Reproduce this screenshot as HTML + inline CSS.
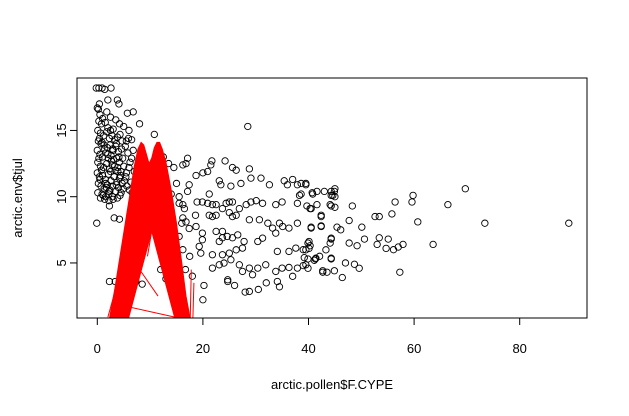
<!DOCTYPE html>
<html><head><meta charset="utf-8"><style>
html,body{margin:0;padding:0;background:#fff;}
svg{display:block;font-family:"Liberation Sans",Arial,sans-serif;}
</style></head><body>
<svg id="chart" width="629" height="416" viewBox="0 0 629 416" xmlns="http://www.w3.org/2000/svg">
<defs><clipPath id="pc"><rect x="77" y="78" width="510" height="240"/></clipPath></defs>
<g id="pts"></g>
<g id="redg" clip-path="url(#pc)"></g>
<rect x="77" y="78" width="510" height="240" fill="none" stroke="#000" stroke-width="1"/>
<g id="axes"></g>
<text x="332" y="389" text-anchor="middle" font-size="13">arctic.pollen$F.CYPE</text>
<text x="0" y="0" transform="translate(22,198) rotate(-90)" text-anchor="middle" font-size="13">arctic.env$tjul</text>
</svg>
<script>
const xTicks=[0,20,40,60,80];
const yTicks=[5,10,15];
const ptX=[-0.2,0.3,0.9,1.4,2.6,2.0,3.8,4.1,0.0,5.7,6.8,
0.2,0.5,1.0,0.3,0.8,1.5,2.0,2.5,3.0,0.1,0.6,1.2,1.8,2.3,2.8,3.3,3.8,4.3,0.2,0.7,1.3,1.9,2.4,2.9,3.5,4.0,4.6,0.0,0.5,1.0,1.6,2.1,2.6,3.1,3.7,4.2,4.8,0.1,0.6,1.2,1.8,2.3,2.8,3.4,3.9,4.5,5.0,0.0,0.4,1.0,1.5,2.1,2.6,3.2,3.7,4.2,4.7,0.2,0.7,1.3,1.9,2.4,2.9,3.5,4.0,4.5,0.1,0.9,1.6,2.2,5.5,5.8,6.2,5.5,6.8,6.0,5.0,4.2,3.5,2.5,1.8,0.4,
0.4,0.9,1.4,2.0,2.7,3.3,3.9,4.4,5.1,5.6,6.1,6.6,0.3,0.8,1.6,2.2,2.9,3.6,4.3,4.9,5.4,6.0,6.5,7.0,0.5,1.1,1.7,2.5,3.0,3.6,4.1,4.7,5.3,5.9,6.4,0.6,1.4,2.2,3.0,3.8,
-0.1,2.3,3.2,4.2,2.3,3.4,7.3,8.5,10.8,8.0,6.5,
12.5,13.5,14.5,15.0,14.0,15.5,16.0,15.5,16.2,17.5,12.0,13.0,13.8,16.7,18.0,20.2,14.8,
28.5,17.1,16.8,16.2,21.7,21.5,24.2,25.6,26.3,28.8,31.0,29.1,20.9,20.0,23.1,23.4,25.3,27.2,32.6,35.4,37.0,36.0,37.9,39.5,18.7,17.4,17.1,21.2,
15.5,16.2,16.5,18.9,19.9,20.9,21.8,22.5,23.7,24.4,25.0,25.6,21.2,21.8,22.5,18.6,25.0,25.6,26.3,26.9,28.2,29.1,30.1,31.3,33.8,35.0,38.3,40.8,43.0,44.3,44.9,37.9,40.5,42.4,44.3,
18.7,19.9,19.9,22.5,23.7,23.1,26.6,27.8,28.8,30.7,32.3,33.2,34.5,35.1,37.9,40.5,42.4,44.3,16.8,16.2,17.4,23.7,24.6,25.6,
19.3,19.6,21.8,23.7,25.0,26.3,27.5,30.4,31.3,33.8,36.3,34.1,36.3,37.6,40.1,39.5,41.4,43.3,44.3,
21.8,23.1,24.0,25.3,26.9,27.5,28.8,29.4,30.4,31.9,33.8,35.0,36.3,37.9,39.5,42.7,44.9,34.1,37.0,24.7,24.7,28.8,20.0,
69.7,89.3,73.4,66.4,63.6,59.8,59.6,60.7,56.4,55.8,57.3,57.9,57.0,56.1,54.7,55.1,53.4,53.0,53.4,52.6,50.6,50.1,49.2,47.7,47.7,48.3,49.6,48.7,47.0,46.4,46.1,45.4,44.3,44.1,44.3,42.7,43.5,45.0,44.3,44.6,45.0,44.1,45.0,42.4,42.4,40.5,40.7,41.6,41.6,39.7,40.3,39.5,38.6,38.6,39.9,40.3,40.1,39.0,42.1,41.3,41.1,39.9,39.2,39.0,39.9,
28.0,26.0,30.5,32.0,34.5];
const ptY=[18.2,18.2,18.2,18.1,18.2,17.3,17.3,17.0,16.7,16.3,16.4,
16.6,16.2,15.9,15.7,15.5,15.6,15.2,15.0,15.1,15.0,14.8,14.6,14.9,14.4,14.6,14.3,14.5,14.7,14.2,14.0,13.9,13.7,13.9,13.6,13.8,13.4,13.6,13.5,13.2,13.0,13.3,12.9,13.1,12.8,12.9,12.6,12.9,12.6,12.3,12.2,12.5,12.1,12.4,12.0,12.2,11.9,12.3,11.8,11.5,11.6,11.3,11.7,11.2,11.5,11.1,11.4,11.0,11.0,10.8,10.6,10.9,10.5,10.8,10.4,10.7,10.3,10.3,10.2,10.0,10.2,11.8,13.3,12.6,14.2,13.5,15.0,15.3,15.5,15.8,16.0,16.4,17.0,
14.4,14.1,13.6,13.2,12.7,12.3,11.9,11.6,11.2,10.8,10.5,10.3,12.9,12.0,11.0,10.4,10.0,10.9,10.1,10.6,11.5,12.2,12.9,11.9,11.3,10.1,10.7,11.9,13.5,14.0,13.0,14.2,13.8,14.4,11.1,9.9,9.8,9.7,9.8,9.9,
8.0,9.3,8.4,8.3,3.6,3.6,3.6,3.4,14.7,15.5,14.3,
13.0,12.5,12.2,11.0,10.2,10.0,8.0,7.0,6.0,5.5,4.5,3.8,3.2,4.5,4.0,3.3,4.5,
15.3,12.9,12.5,12.4,12.7,12.4,12.7,12.2,12.0,12.1,11.4,11.4,11.9,11.8,11.2,10.9,10.8,11.0,10.9,11.2,11.3,10.9,10.9,10.9,11.6,10.9,10.4,10.2,
9.5,9.4,9.1,9.6,9.6,9.5,9.4,9.4,9.1,9.5,9.6,9.6,8.6,8.5,8.6,8.6,8.8,8.5,8.6,9.1,9.4,9.6,9.7,9.5,9.4,9.6,10.1,10.2,10.4,10.1,10.4,9.5,9.1,8.5,9.3,
7.75,7.25,6.75,7.38,7.38,6.62,7.12,6.62,8.26,8.26,8.0,7.63,8.0,7.75,8.0,7.63,7.75,6.87,8.1,8.4,7.6,6.9,7.0,6.9,
6.25,5.74,5.62,5.62,5.74,5.99,6.12,6.62,6.87,7.25,7.63,5.87,5.87,6.12,6.62,5.99,5.36,5.99,5.36,
4.61,4.86,4.99,5.24,4.86,4.36,4.61,4.11,4.61,4.86,4.36,4.61,4.66,4.61,4.86,4.41,4.41,3.60,3.99,3.73,3.60,2.85,2.22,
10.6,8.0,8.0,9.4,6.4,10.1,9.6,8.1,9.6,8.7,4.3,6.4,6.2,6.0,6.1,6.8,6.9,6.4,8.5,8.5,6.8,7.7,6.3,6.5,8.2,9.3,4.6,4.9,5.0,3.9,7.5,7.7,6.8,6.5,5.3,4.3,4.3,10.6,10.4,10.1,10.0,9.4,9.2,8.6,7.8,7.7,10.3,10.4,9.4,9.3,9.1,11.0,11.0,10.2,6.5,6.3,6.1,6.0,5.5,5.3,5.2,5.3,5.4,4.8,4.6,
2.8,3.3,3.0,3.5,3.2];
const fitX=[2.3,3.3,4.3,5.3,6.3,7.0,7.7,8.3,8.8,9.3,9.8,10.3,10.8,11.3,11.8,12.3,13,14,15,16,16.8,17.6];
const fitY=[0.8,3,5.5,8,10.5,12.3,13.6,14.1,13.9,13.2,12.5,12.9,13.7,14.1,14.1,13.6,12.6,10.5,8,5,2.5,0.8];
const holeX=[5.9,10.3,14.7];
const holeY=[0.8,7.4,0.8];
const strayX1=[2.0,4.6,7.5,10.3,17.6,18.1];
const strayY1=[0.9,1.8,4.8,7.4,0.8,0.8];
const strayX2=[3.8,14.8,11.5,9.5,17.8,18.3];
const strayY2=[3.5,0.9,2.5,5.5,4.5,3.5];

const NS='http://www.w3.org/2000/svg';
const sx=x=>97.3+x*5.28;
const sy=y=>196.7-(y-10)*13.25;
function mk(t,a,p){const e=document.createElementNS(NS,t);for(const k in a)e.setAttribute(k,a[k]);p.appendChild(e);return e;}

const redg=document.getElementById('redg');
let d='M'+sx(fitX[0])+' '+sy(-1);
for(let i=0;i<fitX.length;i++)d+=' L'+sx(fitX[i])+' '+sy(fitY[i]);
d+=' L'+sx(fitX[fitX.length-1])+' '+sy(-1)+' Z';
d+=' M'+sx(holeX[0])+' '+sy(-1);
for(let i=0;i<holeX.length;i++)d+=' L'+sx(holeX[i])+' '+sy(holeY[i]);
d+=' L'+sx(holeX[2])+' '+sy(-1)+' Z';
const rp=mk('path',{d:d,fill:'#ff0000','fill-rule':'evenodd',stroke:'#ff0000','stroke-width':1},redg);


for(let i=0;i<strayX1.length;i++){
 const l=mk('line',{x1:sx(strayX1[i]),y1:sy(strayY1[i]),x2:sx(strayX2[i]),y2:sy(strayY2[i]),stroke:'#ff0000','stroke-width':1},redg);
 
 
}

const pts=document.getElementById('pts');
for(let i=0;i<ptX.length;i++){
 const c=mk('circle',{cx:sx(ptX[i]),cy:sy(ptY[i]),r:3.2,fill:'none',stroke:'#000','stroke-width':0.9},pts);
 
 
}

const ax=document.getElementById('axes');
mk('line',{x1:sx(0),x2:sx(80),y1:318,y2:318,stroke:'#000'},ax);
xTicks.forEach(v=>{
 mk('line',{x1:sx(v),x2:sx(v),y1:318,y2:325,stroke:'#000'},ax);
 const t=mk('text',{x:sx(v),y:353,'text-anchor':'middle','font-size':13},ax);
 t.textContent=v;
 
 
});
mk('line',{x1:77,x2:77,y1:sy(5),y2:sy(15),stroke:'#000'},ax);
yTicks.forEach(v=>{
 mk('line',{x1:70,x2:77,y1:sy(v),y2:sy(v),stroke:'#000'},ax);
 const t=mk('text',{transform:'translate(66,'+sy(v)+') rotate(-90)','text-anchor':'middle','font-size':13},ax);
 t.textContent=v;
 
 
});
</script>
</body></html>
